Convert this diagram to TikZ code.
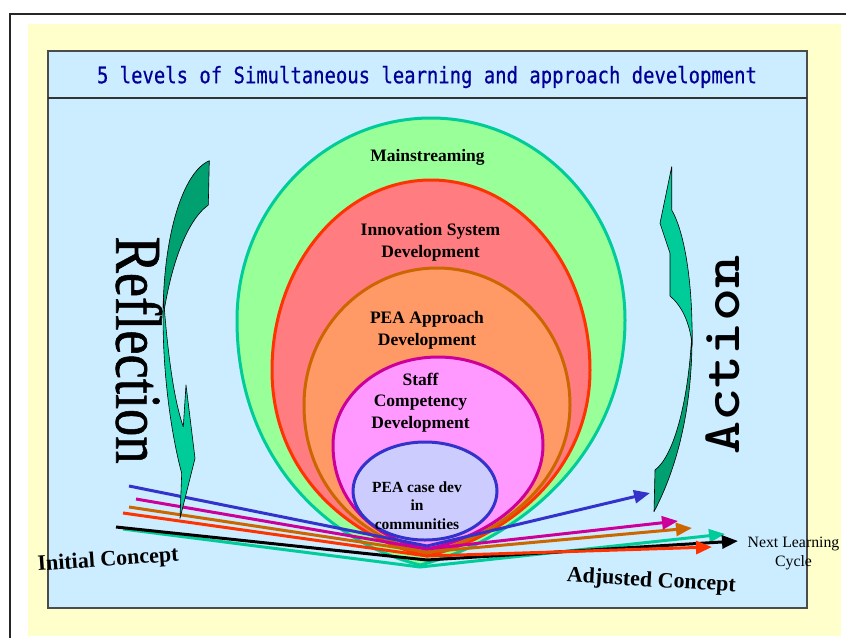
\documentclass[tikz,border=0pt]{standalone}
\usepackage{fontspec}
\setmainfont{Liberation Serif}
\newfontfamily\titlefont[FakeBold=0.6]{DejaVu Sans Mono}
\newfontfamily\heavyserif[FakeBold=1.0]{Liberation Serif}
\usetikzlibrary{arrows.meta}

\definecolor{pageyellow}{HTML}{FFFFCC}
\definecolor{panelblue}{HTML}{CCECFF}
\definecolor{titleblue}{HTML}{000099}
\definecolor{greenfill}{HTML}{99FF99}
\definecolor{tealline}{HTML}{00CC99}
\definecolor{redfill}{HTML}{FF7C80}
\definecolor{redline}{HTML}{FF3300}
\definecolor{orangefill}{HTML}{FF9966}
\definecolor{orangeline}{HTML}{CC6600}
\definecolor{pinkfill}{HTML}{FF99FF}
\definecolor{pinkline}{HTML}{CC0099}
\definecolor{bluefill}{HTML}{CCCCFF}
\definecolor{blueline}{HTML}{3333CC}
\definecolor{arrowdark}{HTML}{00A070}
\definecolor{arrowlight}{HTML}{00CC99}

% egg-shaped level: #1 style, #2 cx, #3 cy, #4 rx, #5 ry, #6 bottom x, #7 bottom y
\newcommand{\levelegg}[7]{%
  \filldraw[#1] (#6,#7)
    .. controls ({#6-0.5*#4},{#7-0.1*(#7-#3)}) and ({#2-#4},{#3+0.55*(#7-#3)}) .. ({#2-#4},#3)
    arc[start angle=180,end angle=360,x radius=#4,y radius=#5]
    .. controls ({#2+#4},{#3+0.55*(#7-#3)}) and ({#6+0.5*#4},{#7-0.1*(#7-#3)}) .. cycle;}

\begin{document}
\begin{tikzpicture}[x=1pt,y=-1pt,
  level/.style={line width=3pt},
  levellabel/.style={font=\fontsize{17.5}{21.5}\selectfont\bfseries, align=center, inner sep=0pt},
  flow/.style={line width=3pt, line join=miter, -{Triangle[length=16pt,width=13pt]}},
  bigarrow/.style={draw=black, line width=0.6pt, line join=round},
  concept/.style={font=\fontsize{22}{26}\selectfont\bfseries, inner sep=0pt, anchor=base}]

\useasboundingbox (0,0) rectangle (846,638);
\fill[white] (0,0) rectangle (846,638);

% page frame and backgrounds
\draw[line width=2pt, black!85] (10,638) -- (10,14) -- (846,14);
\fill[pageyellow] (28,24) rectangle (841,636);
\filldraw[fill=panelblue, draw=black!70, line width=1.3pt] (48,51) rectangle (807,608);
\draw[line width=2pt, black!80] (48,97.5) -- (807,97.5);
\node[font=\titlefont\fontsize{18.9}{22}\selectfont, text=titleblue, inner sep=0pt] (title) at (427,77)
  {\scalebox{1}[1.2]{5 levels of Simultaneous learning and approach development}};

% nested levels
\levelegg{level, fill=greenfill, draw=tealline}{431}{320}{194}{202}{420}{565}
\levelegg{level, fill=redfill, draw=redline}{431}{370}{159}{190}{427}{556}
\levelegg{level, fill=orangefill, draw=orangeline}{437}{405}{133}{137}{427}{553}
\levelegg{level, fill=pinkfill, draw=pinkline}{438}{445}{105}{88}{427}{549}
\filldraw[level, fill=bluefill, draw=blueline] (425,491) ellipse [x radius=72, y radius=49];

\node[levellabel, anchor=base] (mainstream) at (427.5,161) {Mainstreaming};
\node[levellabel] (innovation) at (430.5,242.4) {Innovation System\\Development};
\node[levellabel] (approach) at (427,330.4) {PEA Approach\\Development};
\node[levellabel] (staff) at (420.5,402.4) {Staff\\Competency\\Development};
\node[levellabel, font=\fontsize{15.5}{18.3}\selectfont\bfseries] (casedev) at (417,505.7) {PEA case dev\\in\\communities};

% learning lines: start, turning point at the base, end
\coordinate (tealA) at (123,529);  \coordinate (tealV) at (420,567);  \coordinate (tealB) at (725,534);
\coordinate (blackA) at (116,527); \coordinate (blackV) at (427,560); \coordinate (blackB) at (738,541);
\coordinate (redA) at (123,513);   \coordinate (redV) at (427,556);   \coordinate (redB) at (712,547);
\coordinate (orA) at (129,507);    \coordinate (orV) at (427,552);    \coordinate (orB) at (692,528);
\coordinate (mgA) at (136,499);    \coordinate (mgV) at (427,549);    \coordinate (mgB) at (678,521);
\coordinate (blA) at (129,486);    \coordinate (blV) at (427,546);    \coordinate (blB) at (650,493);

\draw[flow, tealline] (tealA) -- (tealV) -- (tealB);
\draw[flow, black] (blackA) -- (blackV) -- (blackB);
\draw[flow, redline] (redA) -- (redV) -- (redB);
\draw[flow, orangeline] (orA) -- (orV) -- (orB);
\draw[flow, pinkline] (mgA) -- (mgV) -- (mgB);
\draw[flow, blueline] (blA) -- (blV) -- (blB);

% reflection arrow (curving down on the left)
\filldraw[bigarrow, fill=arrowdark] (209.3,160.7)
  .. controls (183,172) and (163,235) .. (163,318)
  .. controls (170,270) and (185,222) .. (208.3,205) -- cycle;
\filldraw[bigarrow, fill=arrowlight] (163.5,298)
  .. controls (161,360) and (170,430) .. (181.7,473.3)
  -- (180,518.3) -- (195,458.3) -- (186,385) -- (183.3,426.7)
  .. controls (173,398) and (167,345) .. cycle;

% action arrow (curving up on the right)
\filldraw[bigarrow, fill=arrowdark] (692,330)
  .. controls (693,410) and (676,470) .. (654,511.7)
  -- (655,470)
  .. controls (674,456) and (689,400) .. cycle;
\filldraw[bigarrow, fill=arrowlight] (671.7,166.7)
  -- (660,223.3) -- (670,253.3) -- (670,296)
  .. controls (681,305) and (690,322) .. (692,345)
  .. controls (693,290) and (686,235) .. (671.7,210) -- cycle;

\node[rotate=-90, font=\heavyserif\fontsize{54.5}{60}\selectfont, inner sep=0pt] (reflection) at (139,350)
  {\scalebox{1}[1.2]{Reflection}};
\node[rotate=90, font=\ttfamily\bfseries\fontsize{63}{66}\selectfont, inner sep=0pt] (action) at (723,355)
  {\scalebox{1}[0.86]{Action}};

\node[concept, rotate=4] (initial) at (108.5,566) {Initial Concept};
\node[concept, rotate=-3.3] (adjusted) at (651,586.7) {Adjusted Concept};
\node[font=\fontsize{15.8}{19}\selectfont, align=center, inner sep=0pt] (next) at (793.5,553.9) {Next Learning\\Cycle};

\end{tikzpicture}
\end{document}
